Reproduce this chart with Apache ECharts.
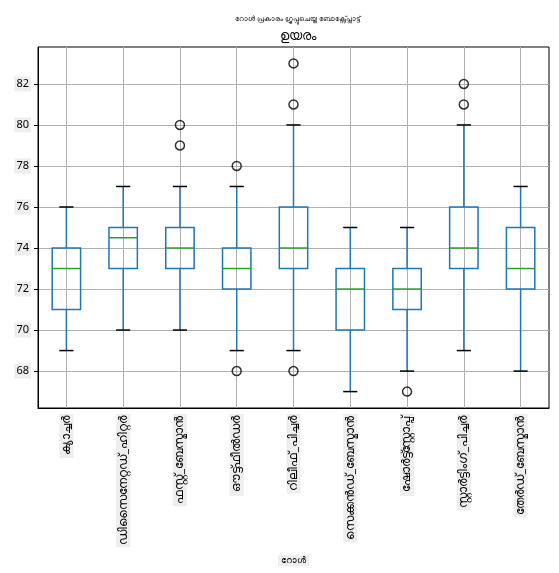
<!DOCTYPE html>
<html lang="ml">
<head>
    <meta charset="UTF-8">
    <title>ഉയരം</title>
    <script src="https://cdn.jsdelivr.net/npm/echarts@6/dist/echarts.min.js"></script>
    <style>
        html, body { margin: 0; padding: 0; background: #fff; }
        #chart { width: 559px; height: 573px; }
    </style>
</head>
<body>
<div id="chart"></div>
<script>
    // റോളുകൾ (x അക്ഷം)
    var roles = ['ക്യാച്ചർ', 'ഡിസൈനേറ്റഡ്_ഹിറ്റർ', 'ഫസ്റ്റ്_ബേസ്മാൻ', 'ഔട്ട്ഫീൽഡർ', 'റിലീഫ്_പിച്ചർ',
        'സെക്കൻഡ്_ബേസ്മാൻ', 'ഷോർട്ട്സ്റ്റോപ്പ്', 'സ്റ്റാർട്ടിംഗ്_പിച്ചർ', 'തേർഡ്_ബേസ്മാൻ'];
    // [താഴെ വിസ്കർ, Q1, മീഡിയൻ, Q3, മുകളിലെ വിസ്കർ]
    var whiskLow = [69, 70, 70, 69, 69, 67, 68, 69, 68];
    var q1       = [71, 73, 73, 72, 73, 70, 71, 73, 72];
    var median   = [73, 74.5, 74, 73, 74, 72, 72, 74, 73];
    var q3       = [74, 75, 75, 74, 76, 73, 73, 76, 75];
    var whiskHigh= [76, 77, 77, 77, 80, 75, 75, 80, 77];
    // ഔട്ട്‌ലയറുകൾ: [റോൾ സൂചിക, മൂല്യം]
    var outliers = [[2, 80], [2, 79], [3, 78], [3, 68], [4, 83], [4, 81], [4, 68],
        [6, 67], [7, 82], [7, 81]];
    var yTicks = [68, 70, 72, 74, 76, 78, 80, 82];
    var xPos = [1, 2, 3, 4, 5, 6, 7, 8, 9];

    var font = 'Noto Sans, DejaVu Sans, sans-serif';
    var boxData = roles.map(function (r, i) {
        return [i, whiskLow[i], q1[i], median[i], q3[i], whiskHigh[i]];
    });

    function renderBox(params, api) {
        var i = api.value(0);
        var band = api.size([1, 0])[0];
        var half = band * 0.25, cap = band * 0.125;
        var x = api.coord([i, 0])[0];
        var yLo = api.coord([i, api.value(1)])[1];
        var yQ1 = api.coord([i, api.value(2)])[1];
        var yMed = api.coord([i, api.value(3)])[1];
        var yQ3 = api.coord([i, api.value(4)])[1];
        var yHi = api.coord([i, api.value(5)])[1];
        var blue = { stroke: '#1f77b4', lineWidth: 1.5 };
        var black = { stroke: '#000', lineWidth: 1.5 };
        return {
            type: 'group',
            children: [
                { type: 'line', shape: { x1: x, y1: yQ1, x2: x, y2: yLo }, style: blue },
                { type: 'line', shape: { x1: x, y1: yQ3, x2: x, y2: yHi }, style: blue },
                { type: 'rect', shape: { x: x - half, y: yQ3, width: half * 2, height: yQ1 - yQ3 },
                    style: { fill: 'none', stroke: '#1f77b4', lineWidth: 1.5 } },
                { type: 'line', shape: { x1: x - half, y1: yMed, x2: x + half, y2: yMed },
                    style: { stroke: '#2ca02c', lineWidth: 1.5 } },
                { type: 'line', shape: { x1: x - cap, y1: yLo, x2: x + cap, y2: yLo }, style: black },
                { type: 'line', shape: { x1: x - cap, y1: yHi, x2: x + cap, y2: yHi }, style: black }
            ]
        };
    }

    var chart = echarts.init(document.getElementById('chart'));
    chart.setOption({
        animation: false,
        title: [{
            text: 'റോൾ പ്രകാരം ഗ്രൂപ്പുചെയ്ത ബോക്സ്പ്ലോട്ട്',
            left: 293, top: 10, textAlign: 'center',
            textStyle: { fontSize: 7, fontWeight: 'normal', color: '#000', fontFamily: font, backgroundColor: '#eeeeee', padding: [2, 3] }
        }, {
            text: 'ഉയരം',
            left: 293, top: 25, textAlign: 'center',
            textStyle: { fontSize: 13, fontWeight: 'normal', color: '#000', fontFamily: font, backgroundColor: '#eeeeee', padding: [1, 3] }
        }],
        grid: {
            left: 38, right: 10, top: 47, bottom: 165,
            show: true, borderColor: '#000', borderWidth: 1, backgroundColor: 'transparent'
        },
        xAxis: [{
            type: 'category',
            data: roles,
            name: 'റോൾ',
            nameLocation: 'middle',
            nameGap: 140,
            nameTextStyle: { fontSize: 9, color: '#000', fontFamily: font, backgroundColor: '#eeeeee', padding: [1, 3] },
            axisLine: { lineStyle: { color: '#000' } },
            axisTick: { alignWithLabel: true, length: 4, lineStyle: { color: '#000' } },
            axisLabel: { rotate: 90, interval: 0, fontSize: 12, color: '#000', fontFamily: font, margin: 6,
                backgroundColor: '#eeeeee', padding: [1, 2] },
            splitLine: { show: false }
        }, {
            type: 'value',
            min: 0.5, max: 9.5,
            position: 'bottom',
            axisLine: { show: false },
            axisTick: { show: false, customValues: xPos },
            axisLabel: { show: false },
            splitLine: { show: true, lineStyle: { color: '#b0b0b0', width: 1 } }
        }],
        yAxis: {
            type: 'value',
            min: 66.2, max: 83.8,
            axisLine: { show: true, lineStyle: { color: '#000' } },
            axisTick: { show: true, length: 4, customValues: yTicks, lineStyle: { color: '#000' } },
            axisLabel: { customValues: yTicks, fontSize: 11, color: '#000', fontFamily: font, margin: 7,
                backgroundColor: '#eeeeee', padding: [2, 2] },
            splitLine: { show: true, lineStyle: { color: '#b0b0b0', width: 1 } }
        },
        series: [{
            type: 'custom',
            xAxisIndex: 0,
            renderItem: renderBox,
            encode: { x: 0, y: [1, 2, 3, 4, 5] },
            data: boxData,
            z: 3
        }, {
            type: 'scatter',
            xAxisIndex: 0,
            data: outliers,
            symbol: 'circle',
            symbolSize: 9,
            itemStyle: { color: 'rgba(0,0,0,0)', borderColor: '#000', borderWidth: 1.5 },
            z: 4
        }]
    });
</script>
</body>
</html>
